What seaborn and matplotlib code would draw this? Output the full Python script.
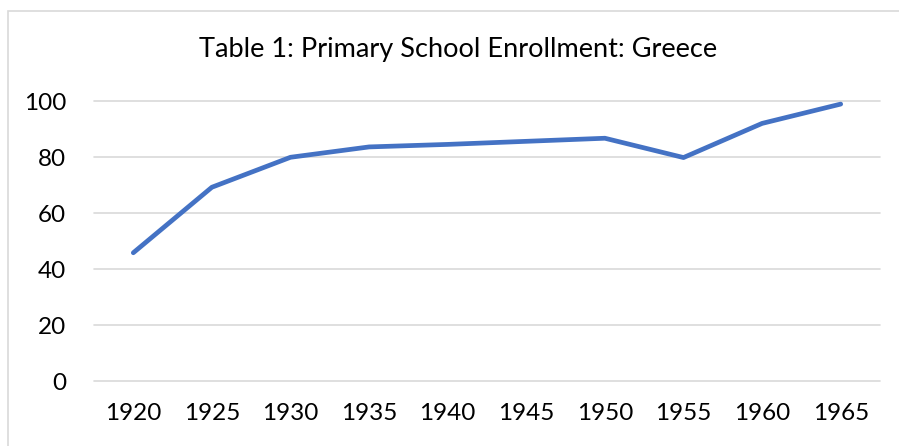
import seaborn as sns
import matplotlib.pyplot as plt
from matplotlib.patches import Rectangle

years = ["1920", "1925", "1930", "1935", "1940", "1945", "1950", "1955", "1960", "1965"]
enrollment = [45.8, 69.2, 79.9, 83.6, 84.5, 85.6, 86.7, 79.8, 92.0, 98.9]
y_ticks = [0, 20, 40, 60, 80, 100]

sns.set_style("white")
plt.rcParams['font.family'] = ['Lato', 'DejaVu Sans']

fig = plt.figure(figsize=(8.99, 4.46), dpi=100)
ax = fig.add_axes([94 / 899, 1 - 381 / 446, 786 / 899, 280 / 446])

sns.lineplot(x=years, y=enrollment, ax=ax, color="#4472C4", linewidth=3.4,
             solid_capstyle='round', solid_joinstyle='round', sort=False, clip_on=False)

ax.set_xlim(-0.5, len(years) - 0.5)
ax.set_ylim(0, 100)
ax.set_yticks(y_ticks)
ax.yaxis.grid(True, color="#D9D9D9", linewidth=1.2)
ax.set_axisbelow(True)
for gl in ax.get_ygridlines():
    gl.set_clip_on(False)
sns.despine(ax=ax, left=True, bottom=True)
ax.tick_params(axis='both', length=0, labelsize=17.5, colors="#000000")
ax.tick_params(axis='y', pad=20)
ax.tick_params(axis='x', pad=16)
ax.set_xlabel("")
ax.set_ylabel("")

fig.text(458 / 899, 1 - 49 / 446, "Table 1: Primary School Enrollment: Greece",
         ha='center', va='center', fontsize=19.5, color="#000000")

fig.patches.append(Rectangle((8 / 899, -0.1), 1.2, 1 - 11 / 446 + 0.1,
                             transform=fig.transFigure, fill=False,
                             edgecolor="#D9D9D9", linewidth=1.2))

fig.savefig("out.png", dpi=100)
